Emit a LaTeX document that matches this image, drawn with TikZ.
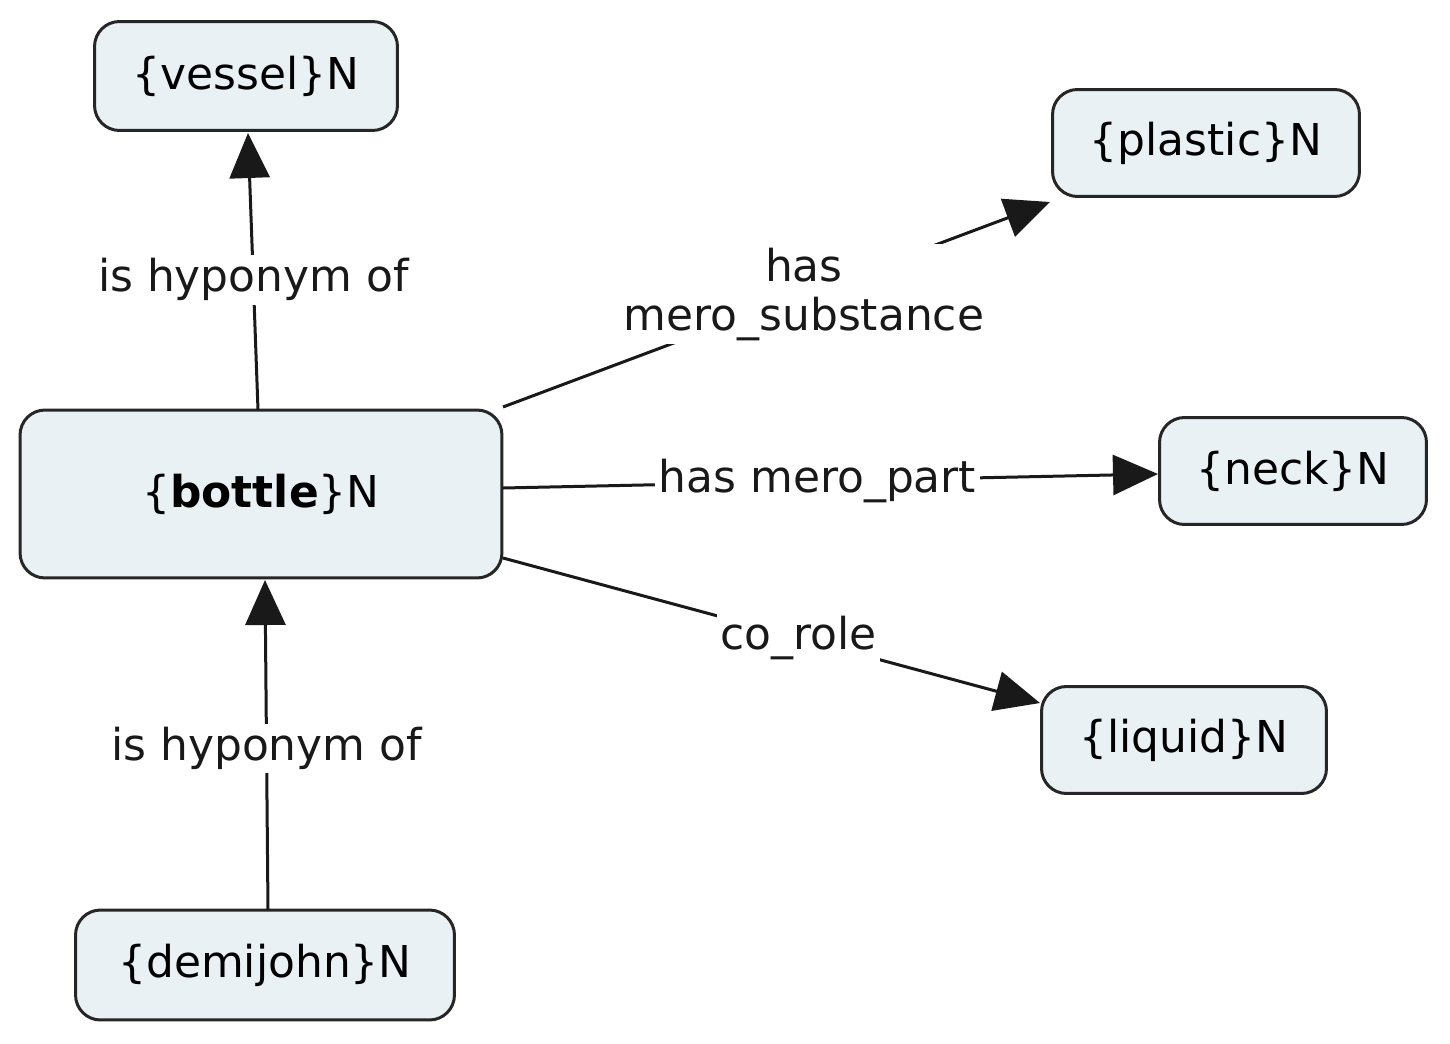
\documentclass[tikz,border=0pt]{standalone}
\usepackage{fontspec}
\setmainfont{DejaVu Sans}
\usetikzlibrary{arrows.meta}
\begin{document}
\begin{tikzpicture}[x=0.02cm,y=-0.02cm,
  box/.style={draw=black!85,line width=0.06cm,fill={rgb,255:red,233;green,241;blue,245},rounded corners=0.5cm,font=\fontsize{25}{30}\selectfont,inner sep=0pt},
  lbl/.style={fill=white,font=\fontsize{25}{30}\selectfont,inner sep=2pt,align=center},
  ln/.style={line width=0.06cm,black!90},
  arr/.style={ln,-{Triangle[length=0.9cm,width=0.8cm]}}]
\useasboundingbox (0,0) rectangle (1450,1044);
\node[box,minimum width=6.06cm,minimum height=2.18cm] (vessel) at (246,76) {\{vessel\}N};
\node[box,minimum width=6.14cm,minimum height=2.14cm] (plastic) at (1206,143) {\{plastic\}N};
\node[box,minimum width=9.64cm,minimum height=3.36cm] (bottle) at (261,494) {\{\textbf{bottle}\}N};
\node[box,minimum width=5.34cm,minimum height=2.14cm] (neck) at (1293,471) {\{neck\}N};
\node[box,minimum width=5.7cm,minimum height=2.14cm] (liquid) at (1184,740) {\{liquid\}N};
\node[box,minimum width=7.58cm,minimum height=2.2cm] (demi) at (265,965) {\{demijohn\}N};
\coordinate (b1) at (258,410);
\coordinate (v1) at (248,133);
\coordinate (b2) at (265,580);
\coordinate (d1) at (268,910);
\coordinate (b3) at (503,407);
\coordinate (p1) at (1050,202);
\coordinate (b4) at (503,488);
\coordinate (n1) at (1158,474);
\coordinate (b5) at (503,558);
\coordinate (l1) at (1040,703);
\draw[arr] (b1) -- node[lbl,pos=0.47]{is hyponym of} (v1);
\draw[arr] (d1) -- node[lbl,pos=0.49]{is hyponym of} (b2);
\draw[arr] (b3) -- node[lbl,pos=0.55]{has\\[-2pt]mero\_substance} (p1);
\draw[arr] (b4) -- node[lbl,pos=0.48]{has mero\_part} (n1);
\draw[arr] (b5) -- node[lbl,pos=0.55]{co\_role} (l1);
\end{tikzpicture}
\end{document}
